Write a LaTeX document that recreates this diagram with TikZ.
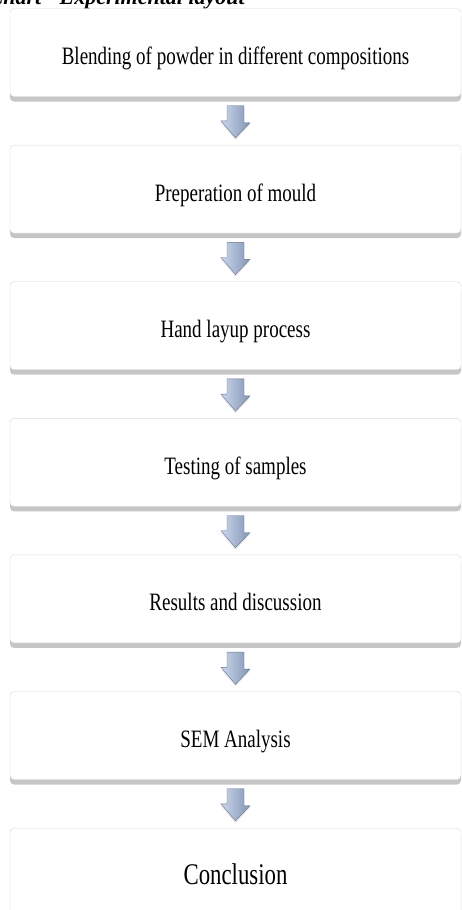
\documentclass[tikz,border=0pt]{standalone}
\usepackage{fontspec}
\setmainfont{Liberation Serif}[FakeStretch=0.76]
\newfontfamily\headfont{Liberation Serif}
\usetikzlibrary{calc,positioning,shapes,shadows}
\definecolor{arrowlight}{HTML}{CCD7EB}
\definecolor{arrowdark}{HTML}{8294B6}
\tikzstyle{stepbox}=[draw=gray!30,fill=white,rounded corners=4pt,
  minimum width=451pt,minimum height=88pt,inner sep=0,
  text height=24pt,text depth=0pt,
  font=\fontsize{25}{28}\selectfont,
  drop shadow={shadow xshift=0pt,shadow yshift=-5pt,opacity=0.45}]
\tikzstyle{flowarrow}=[draw=arrowdark!80!black,line width=0.4pt,
  left color=arrowlight,right color=arrowdark,line join=miter,
  drop shadow={shadow xshift=0pt,shadow yshift=-2pt,opacity=0.2}]
\begin{document}
\begin{tikzpicture}[x=1pt,y=1pt,
    titletext/.style={font=\headfont\bfseries\itshape\fontsize{22}{26}\selectfont,
      inner sep=0,anchor=base east}
    ]

    \useasboundingbox (0,0) rectangle (462,-910);
    \clip (0,0) rectangle (462,-910);

    % title, cut at the top
    \node [titletext] (title) at (245,-5) {Chart - Experimental layout};

    % process steps
    \node [stepbox] (step1) at (235.5,-52.5)
      {Blending of powder in different compositions};
    \foreach \txt [count=\i from 2] in {Preperation of mould,
        Hand layup process,Testing of samples,Results and discussion,
        SEM Analysis} {
      \pgfmathtruncatemacro\prev{\i-1}
      \node [stepbox,below=48.2pt of step\prev] (step\i) {\txt};
    }
    \node [stepbox,below=48.2pt of step6,font=\fontsize{30}{34}\selectfont]
      (step7) {Conclusion};

    % block arrows between steps
    \foreach \i in {1,...,6} {
      \pgfmathtruncatemacro\next{\i+1}
      \path [flowarrow] ($(step\i.south)+(-8.5,-9)$) -- ++(17,0) -- ++(0,-17)
        -- ++(6,0) -- ($(step\next.north)+(0,7)$) -- ++(-14.5,17)
        -- ++(6,0) -- cycle;
    }
  \end{tikzpicture}
\end{document}
